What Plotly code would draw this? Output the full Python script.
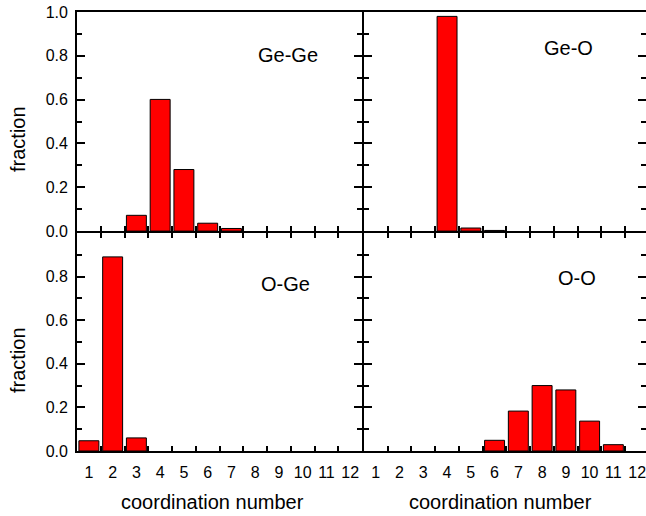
import plotly.graph_objects as go
from plotly.subplots import make_subplots

categories = ["1", "2", "3", "4", "5", "6", "7", "8", "9", "10", "11", "12"]
ge_ge = [None, None, 0.072, 0.601, 0.281, 0.036, 0.012, None, None, None, None, None]
ge_o = [None, None, None, 0.98, 0.014, 0.003, None, None, None, None, None, None]
o_ge = [0.047, 0.89, 0.06, None, None, None, None, None, None, None, None, None]
o_o = [None, None, None, None, None, 0.049, 0.183, 0.30, 0.28, 0.137, 0.029, None]
panel_labels = ["Ge-Ge", "Ge-O", "O-Ge", "O-O"]
y_ticks_top = [0.0, 0.2, 0.4, 0.6, 0.8, 1.0]
y_ticks_bottom = [0.0, 0.2, 0.4, 0.6, 0.8]
y_minor = [0.1, 0.3, 0.5, 0.7, 0.9]

FONT = "Liberation Sans, Arial, Helvetica, sans-serif"

fig = make_subplots(rows=2, cols=2, horizontal_spacing=0, vertical_spacing=0)

series = [ge_ge, ge_o, o_ge, o_o]
pos = [(1, 1), (1, 2), (2, 1), (2, 2)]
for s, (r, c) in zip(series, pos):
    fig.add_trace(go.Bar(x=categories, y=s, width=0.84,
                         marker=dict(color="#ff0000", line=dict(color="black", width=1)),
                         showlegend=False), row=r, col=c)

W, H = 646, 516
L, R, T, B = 77, 0, 12, 65
LW = 1.8
pw = W - L - R
ph = H - T - B
half = LW / 2.0
# left panel ends / right panel begins so the two shared lines coincide at x=363
x_left_end = (286 - half) / pw
x_right_start = (286 + half) / pw
y_bot_top = (219 - half) / ph
y_top_bot = (219 + half) / ph
cat_px = (286 - half) / 12.0
right_range_end = -0.5 + (W - L - 286 - half) / cat_px

xdom = {1: [0, x_left_end], 2: [x_right_start, 1]}
ydom = {1: [y_top_bot, 1], 2: [0, y_bot_top]}

axis_common = dict(showline=True, linecolor="black", linewidth=LW, ticks="inside",
                   tickcolor="black", showgrid=False, zeroline=False,
                   tickfont=dict(family=FONT, size=16, color="black"))

for i, (r, c) in enumerate(pos):
    xa = dict(axis_common)
    xa.update(domain=xdom[c], type="category", categoryorder="array",
              categoryarray=categories, tickson="boundaries", ticklen=5,
              tickwidth=1.6, tickangle=0,
              range=[-0.5, 11.5] if c == 1 else [-0.5, right_range_end],
              showticklabels=(r == 2), ticklabelstandoff=6,
              mirror=("ticks" if r == 2 else True))
    yt = y_ticks_top if r == 1 else y_ticks_bottom
    ya = dict(axis_common)
    ya.update(domain=ydom[r], range=[0, 1.0], ticklen=8, tickwidth=1.6,
              tickvals=yt, ticktext=[f"{v:.1f}" for v in yt],
              minor=dict(tickvals=y_minor, ticklen=5, ticks="inside",
                         tickcolor="black", tickwidth=1.6),
              showticklabels=(c == 1), mirror="ticks", ticklabelstandoff=4)
    fig.update_xaxes(xa, row=r, col=c)
    fig.update_yaxes(ya, row=r, col=c)

label_pos = [(0.74, 0.805), (0.724, 0.836), (0.731, 0.767), (0.756, 0.795)]
axnames = ["", "2", "3", "4"]
for lab, (lx, ly), an in zip(panel_labels, label_pos, axnames):
    fig.add_annotation(text=lab, xref=f"x{an} domain", yref=f"y{an} domain",
                       x=lx, y=ly, xanchor="center", yanchor="middle", showarrow=False,
                       font=dict(family=FONT, size=20, color="black"))

for cy in [139, 360]:
    fig.add_annotation(text="fraction", xref="paper", yref="paper",
                       x=(18 - L) / pw, y=(H - B - cy) / ph, textangle=-90,
                       xanchor="center", yanchor="middle", showarrow=False,
                       font=dict(family=FONT, size=20, color="black"))
for cx in [212, 500]:
    fig.add_annotation(text="coordination number", xref="paper", yref="paper",
                       x=(cx - L) / pw, y=(H - B - 502) / ph,
                       xanchor="center", yanchor="middle", showarrow=False,
                       font=dict(family=FONT, size=20, color="black"))

fig.update_layout(width=W, height=H, margin=dict(l=L, r=R, t=T, b=B, autoexpand=False),
                  plot_bgcolor="white", paper_bgcolor="white", bargap=0.16)

fig.write_html("out.html")
